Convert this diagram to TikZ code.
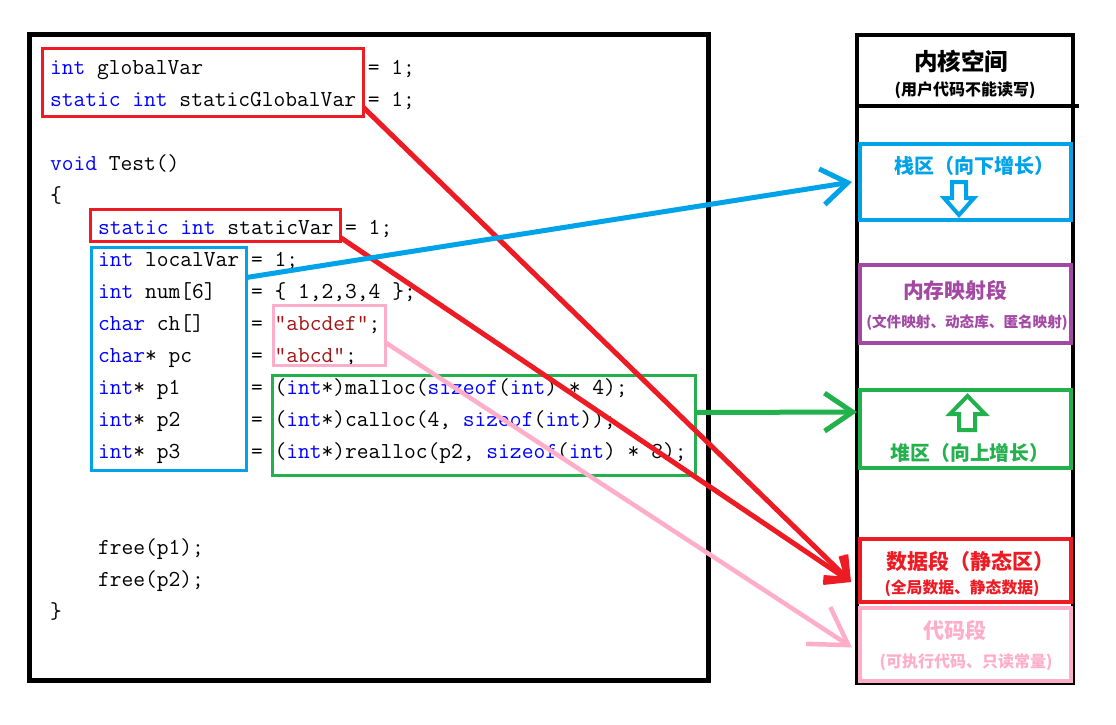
\documentclass[tikz,border=0pt]{standalone}
\usepackage{fontspec}
\usetikzlibrary{arrows.meta}
\newfontfamily\cjk{Noto Sans CJK SC}
\definecolor{kwc}{HTML}{0000FF}
\definecolor{strc}{HTML}{A31515}
\definecolor{pred}{HTML}{ED1C24}
\definecolor{pblue}{HTML}{00A2E8}
\definecolor{pgreen}{HTML}{22B14C}
\definecolor{ppurple}{HTML}{A349A4}
\definecolor{ppink}{HTML}{FFAEC9}
\newcommand{\ckw}[1]{\textcolor{kwc}{#1}}
\newcommand{\cstr}[1]{\textcolor{strc}{#1}}
\tikzset{
  codeline/.style={anchor=base west, inner sep=0pt, outer sep=0pt, font=\ttfamily\fontsize{22.857}{32}\selectfont},
  cbox/.style={draw=#1, line width=3pt, inner sep=0pt, outer sep=0pt},
  segbox/.style={draw=#1, fill=white, line width=4pt, inner sep=0pt, outer sep=0pt},
  conn/.style={line width=5pt},
  hollow/.style={draw=#1, fill=white, line width=4pt, line join=miter},
  t1/.style={inner sep=0pt, font=\cjk\bfseries\fontsize{#1}{#1}\selectfont},
}
\begin{document}
\begin{tikzpicture}[x=1pt, y=-1pt]
\fill[white] (0,0) rectangle (1116,724);
\useasboundingbox (0,0) rectangle (1116,724);

% code frame
\draw[line width=5pt] (29.5,34) rectangle (708,680.5);

% code lines
\node[codeline] (l1)  at (50,74)  {\ckw{int} globalVar~~~~~~~~~~~~~~= 1;};
\node[codeline] (l2)  at (50,106) {\ckw{static} \ckw{int} staticGlobalVar = 1;};
\node[codeline] (l4)  at (50,170) {\ckw{void} Test()};
\node[codeline] (l5)  at (50,202) {\{};
\node[codeline] (l6)  at (98,234) {\ckw{static} \ckw{int} staticVar = 1;};
\node[codeline] (l7)  at (98,266) {\ckw{int} localVar = 1;};
\node[codeline] (l8)  at (98,298) {\ckw{int} num[6]~~~= \{ 1,2,3,4 \};};
\node[codeline] (l9)  at (98,330) {\ckw{char} ch[]~~~~= \cstr{"abcdef"};};
\node[codeline] (l10) at (98,362) {\ckw{char}* pc~~~~~= \cstr{"abcd"};};
\node[codeline] (l11) at (98,394) {\ckw{int}* p1~~~~~~= (\ckw{int}*)malloc(\ckw{sizeof}(\ckw{int}) * 4);};
\node[codeline] (l12) at (98,426) {\ckw{int}* p2~~~~~~= (\ckw{int}*)calloc(4, \ckw{sizeof}(\ckw{int}));};
\node[codeline] (l13) at (98,458) {\ckw{int}* p3~~~~~~= (\ckw{int}*)realloc(p2, \ckw{sizeof}(\ckw{int}) * 8);};
\node[codeline] (l16) at (98,554) {free(p1);};
\node[codeline] (l17) at (98,586) {free(p2);};
\node[codeline] (l18) at (50,618) {\}};

% highlight boxes in code
\node[cbox=pred,   minimum width=321pt, minimum height=68pt]  (gbox) at (203,82.5) {};
\node[cbox=pred,   minimum width=250pt, minimum height=32pt]  (sbox) at (215.5,225.5) {};
\node[cbox=pblue,  minimum width=155pt, minimum height=223pt] (lbox) at (169,359) {};
\node[cbox=ppink,  minimum width=112pt, minimum height=60pt]  (pbox) at (329.5,335.5) {};
\node[cbox=pgreen, minimum width=423pt, minimum height=100pt] (hbox) at (484,425.5) {};

% memory column
\draw[line width=4pt] (857,35) rectangle (1073,683);
\draw[line width=4pt] (857,106) -- (1079,106);
\node[font=\cjk\bfseries\fontsize{23.5}{23.5}\selectfont, inner sep=0pt] (kt) at (961,61) {内核空间};
\node[t1=16] (kst) at (965,90) {(用户代码不能读写)};

\node[segbox=pblue,   minimum width=211pt, minimum height=76pt] (stack) at (965.5,182) {};
\node[segbox=ppurple, minimum width=211pt, minimum height=78pt] (mmap) at (965.5,304) {};
\node[segbox=pgreen,  minimum width=211pt, minimum height=78pt] (heap) at (965.5,429) {};
\node[segbox=pred,    minimum width=211pt, minimum height=63pt] (data) at (965.5,570.5) {};
\node[segbox=ppink,   minimum width=211pt, minimum height=73pt] (codeseg) at (965.5,644.5) {};

\node[t1=20, text=pblue] (stackt) at (974,166) {栈区（向下增长）};
\draw[hollow=pblue] (952,182) -- (966,182) -- (966,198) -- (974,198) -- (959,215) -- (944,198) -- (952,198) -- cycle;

\node[t1=20.8, text=ppurple] (mmapt) at (955,290) {内存映射段};
\node[t1=14.6, text=ppurple] (mmaps) at (967,323) {(文件映射、动态库、匿名映射)};

\draw[hollow=pgreen] (967.5,396) -- (985,414) -- (975,414) -- (975,430) -- (959,430) -- (959,414) -- (950,414) -- cycle;
\node[t1=19.8, text=pgreen] (heapt) at (970,453) {堆区（向上增长）};

\node[t1=21, text=pred] (datat) at (970,561) {数据段（静态区）};
\node[t1=15.8, text=pred] (datas) at (962,588) {(全局数据、静态数据)};

\node[t1=21, text=ppink] (codet) at (955,630) {代码段};
\node[t1=16, text=ppink] (codes) at (966,662) {(可执行代码、只读常量)};

% arrow tips
\coordinate (stacktip) at ([xshift=-8pt]stack.west);
\coordinate (heaptip) at ([xshift=-3pt,yshift=17pt]heap.west);
\coordinate (datatip) at ([xshift=-9pt,yshift=-11.5pt]data.west);
\coordinate (codetip) at ([xshift=-8pt,yshift=-3pt]codeseg.west);

% connectors
\draw[conn, pred, -{Straight Barb[length=19pt,width=32pt]}] ([yshift=9pt]gbox.south east) -- (datatip);
\draw[conn, pred, -{Straight Barb[length=19pt,width=32pt]}] ([yshift=4pt]sbox.south east) -- (datatip);
\draw[conn, pblue, -{Straight Barb[length=26pt,width=36pt]}] ([yshift=-30pt]lbox.north east) -- (stacktip);
\draw[conn, pgreen, -{Straight Barb[length=28pt,width=38pt]}] ([yshift=13pt]hbox.east) -- (heaptip);
\draw[line width=4.5pt, ppink, -{Straight Barb[length=36pt,width=44pt]}] ([yshift=-37pt]pbox.north east) -- (codetip);
\end{tikzpicture}
\end{document}
